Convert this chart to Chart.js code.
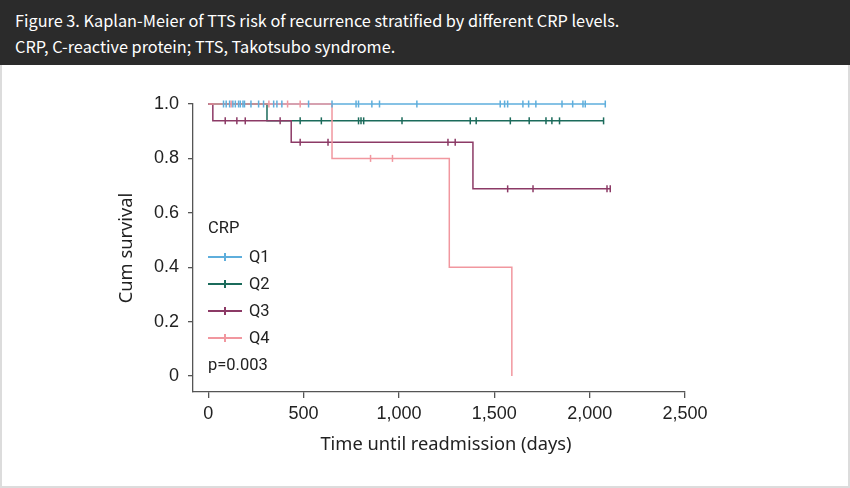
<!DOCTYPE html>
<html>
<head>
<meta charset="utf-8">
<script src="https://cdn.jsdelivr.net/npm/chart.js@4.4.0/dist/chart.umd.min.js"></script>
<style>
  html, body { margin: 0; padding: 0; background: #fff; }
  #wrap { position: relative; width: 850px; height: 488px; overflow: hidden; }
  #frame { position: absolute; left: 0; top: 65px; width: 850px; height: 423px; box-sizing: border-box;
           border: 2px solid #dcdcdc; border-top: none; }
  #head { position: absolute; left: 0; top: 0; width: 850px; height: 65px; background: #2b2b2b; color: #fff;
          font-family: "Noto Sans CJK KR", "Noto Sans", sans-serif; font-size: 16.3px; }
  #head div { position: absolute; left: 15px; line-height: 26px; white-space: nowrap; }
  #chart { position: absolute; left: 0; top: 0; }
</style>
</head>
<body>
<div id="wrap">
  <div id="frame"></div>
  <div id="head">
    <div style="top:7px">Figure 3. Kaplan-Meier of TTS risk of recurrence stratified by different CRP levels.</div>
    <div style="top:33px">CRP, C-reactive protein; TTS, Takotsubo syndrome.</div>
  </div>
  <canvas id="chart" width="850" height="488"></canvas>
</div>
<script>
// groups and colours
const groups = ['Q1', 'Q2', 'Q3', 'Q4'];
const groupColors = ['#5eaedc', '#1b6b5b', '#8c3a66', '#f1979f'];

// step curves: day of each step and survival after it
const q1StepDays = [0, 2082];
const q1StepSurv = [1.0, 1.0];
const q2StepDays = [0, 308, 2073];
const q2StepSurv = [1.0, 0.938, 0.938];
const q3StepDays = [0, 24, 435, 1388, 2108];
const q3StepSurv = [1.0, 0.938, 0.859, 0.688, 0.688];
const q4StepDays = [0, 649, 1264, 1592];
const q4StepSurv = [1.0, 0.8, 0.4, 0.0];

// censored cases (tick marks)
const q1CensorDays = [80, 94, 112, 129, 142, 159, 168, 182, 190, 224, 264, 290, 343, 360, 386, 526, 649,
                      775, 788, 858, 898, 1094, 1531, 1554, 1570, 1650, 1680, 1718, 1855, 1911, 1965, 1977, 2082];
const q2CensorDays = [482, 593, 788, 801, 815, 1016, 1374, 1405, 1584, 1683, 1771, 1802, 1842, 2073];
const q3CensorDays = [89, 150, 194, 377, 482, 628, 1257, 1295, 1570, 1703, 2091, 2108];
const q4CensorDays = [120, 318, 416, 482, 851, 966];

const xTicks = [0, 500, 1000, 1500, 2000, 2500];
const yTicks = [0, 0.2, 0.4, 0.6, 0.8, 1.0];
const pValue = 'p=0.003';

const stepDays = [q1StepDays, q2StepDays, q3StepDays, q4StepDays];
const stepSurv = [q1StepSurv, q2StepSurv, q3StepSurv, q4StepSurv];
const censorDays = [q1CensorDays, q2CensorDays, q3CensorDays, q4CensorDays];

// survival value of a curve at day t
function survAt(days, surv, t) {
  let s = surv[0];
  for (let i = 0; i < days.length; i++) if (days[i] <= t) s = surv[i];
  return s;
}

const datasets = [];
groups.forEach((g, i) => {
  datasets.push({
    label: g,
    data: stepDays[i].map((d, k) => ({ x: d, y: stepSurv[i][k] })),
    borderColor: groupColors[i],
    borderWidth: 1.5,
    pointRadius: 0,
    stepped: 'before',
    fill: false,
    clip: false,
    order: 8 - i
  });
});
groups.forEach((g, i) => {
  datasets.push({
    label: g + ' censored',
    data: censorDays[i].map(d => ({ x: d, y: survAt(stepDays[i], stepSurv[i], d) })),
    showLine: false,
    pointStyle: 'line',
    rotation: 90,
    pointRadius: 3.5,
    pointBorderWidth: 1.5,
    borderColor: groupColors[i],
    backgroundColor: groupColors[i],
    clip: false,
    order: 4 - i
  });
});

// legend, p value and axis titles
const annotations = {
  id: 'annotations',
  afterDraw(chart) {
    const ctx = chart.ctx;
    const a = chart.chartArea;
    ctx.save();
    ctx.fillStyle = '#222';
    ctx.textBaseline = 'middle';
    ctx.textAlign = 'left';
    ctx.font = '16.5px Roboto';
    ctx.fillText('CRP', 208, 229);
    groups.forEach((g, i) => {
      const y = 257 + i * 27;
      ctx.strokeStyle = groupColors[i];
      ctx.lineWidth = 2;
      ctx.beginPath();
      ctx.moveTo(208, y); ctx.lineTo(242, y);
      ctx.moveTo(225, y - 4); ctx.lineTo(225, y + 4);
      ctx.stroke();
      ctx.fillStyle = '#222';
      ctx.fillText(g, 249, y + 1);
    });
    ctx.fillText(pValue, 208, 366);

    ctx.font = '18.3px "Noto Sans"';
    ctx.textAlign = 'center';
    ctx.fillText('Time until readmission (days)', 446, 445);
    ctx.translate(127, (a.top + a.bottom) / 2);
    ctx.rotate(-Math.PI / 2);
    ctx.fillText('Cum survival', 0, 0);
    ctx.restore();
  }
};

const axisColor = '#555';
const tickFont = { family: 'Liberation Sans', size: 18 };

new Chart(document.getElementById('chart'), {
  type: 'line',
  data: { datasets: datasets },
  options: {
    responsive: false,
    animation: false,
    layout: { padding: { left: 113, right: 165, top: 104, bottom: 0 } },
    plugins: { legend: { display: false }, tooltip: { enabled: false } },
    scales: {
      x: {
        type: 'linear',
        min: -80,
        max: 2500,
        afterBuildTicks: s => { s.ticks = xTicks.map(v => ({ value: v })); },
        afterFit: s => { s.height = 96; },
        ticks: {
          callback: v => String(v).replace(/\B(?=(\d{3})+(?!\d))/g, ','),
          font: tickFont, color: '#222', padding: 5, maxRotation: 0, autoSkip: false
        },
        grid: { display: true, drawOnChartArea: false, drawTicks: true, tickLength: 6, color: axisColor, lineWidth: 1.3 },
        border: { display: true, color: axisColor, width: 1.3 }
      },
      y: {
        type: 'linear',
        min: -0.059,
        max: 1.0,
        afterBuildTicks: s => { s.ticks = yTicks.map(v => ({ value: v })); },
        afterFit: s => { s.width = 80; },
        ticks: {
          callback: v => (v === 0 ? '0' : v.toFixed(1)),
          font: tickFont, color: '#222', padding: 9, autoSkip: false
        },
        grid: { display: true, drawOnChartArea: false, drawTicks: true, tickLength: 5, color: axisColor, lineWidth: 1.3 },
        border: { display: true, color: axisColor, width: 1.3 }
      }
    }
  },
  plugins: [annotations]
});
</script>
</body>
</html>
